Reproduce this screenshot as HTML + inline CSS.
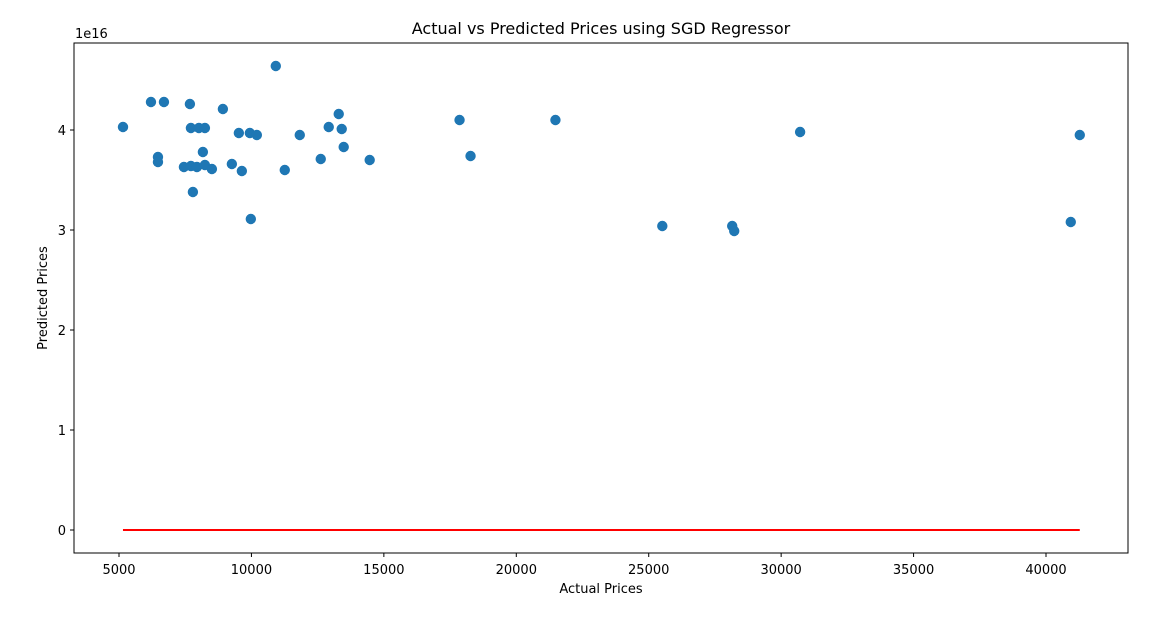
<!DOCTYPE html>
<html><head><meta charset="utf-8"><style>
body{margin:0;background:#fff;}
svg text{font-family:"DejaVu Sans","Liberation Sans",sans-serif;fill:#000;}
</style></head><body>
<svg id="chart" width="1154" height="616" xmlns="http://www.w3.org/2000/svg">
<text x="601" y="34" font-size="16" text-anchor="middle">Actual vs Predicted Prices using SGD Regressor</text>
<text x="601" y="593" font-size="13" text-anchor="middle">Actual Prices</text>
<text transform="translate(47,298) rotate(-90)" font-size="13" text-anchor="middle">Predicted Prices</text>
<text x="75" y="38" font-size="13">1e16</text>
<g id="ticks"></g>
<g id="marks"></g>
<rect x="74" y="43" width="1054" height="510" fill="none" stroke="#000" stroke-width="1"/>
</svg>
<script>
const actual=[5150,6207,6697,6471,6471,7677,7715,8017,8243,7451,7715,7941,7790,8167,8243,8507,8922,9261,9525,9638,9940,10204,9977,10920,11259,11825,12617,12919,13296,13409,13484,14465,17858,18273,21478,25513,28152,28228,30716,40935,41275];
const predicted=[4.03,4.28,4.28,3.73,3.68,4.26,4.02,4.02,4.02,3.63,3.64,3.63,3.38,3.78,3.65,3.61,4.21,3.66,3.97,3.59,3.97,3.95,3.11,4.64,3.60,3.95,3.71,4.03,4.16,4.01,3.83,3.70,4.10,3.74,4.10,3.04,3.04,2.99,3.98,3.08,3.95];
const xTicks=[5000,10000,15000,20000,25000,30000,35000,40000];
const yTicks=[0,1,2,3,4];
const lineY=[0,0];
function X(v){return 119+(v-5000)*(132.43/5000);}
function Y(v){return 530-v*100;}
const NS="http://www.w3.org/2000/svg";
const tg=document.getElementById('ticks'),mg=document.getElementById('marks');
function mk(tag,attrs,parent){const e=document.createElementNS(NS,tag);for(const k in attrs)e.setAttribute(k,attrs[k]);parent.appendChild(e);return e;}
xTicks.forEach(t=>{
  const l=mk('line',{x1:X(t),x2:X(t),y1:553,y2:557,stroke:'#000'},tg);
  
  
  const s=mk('text',{x:X(t),y:574,'font-size':13,'text-anchor':'middle'},tg);s.textContent=t;
  
  
});
yTicks.forEach(t=>{
  const l=mk('line',{x1:70,x2:74,y1:Y(t),y2:Y(t),stroke:'#000'},tg);
  
  
  const s=mk('text',{x:66,y:Y(t)+5,'font-size':13,'text-anchor':'end'},tg);s.textContent=t;
  
  
});
const mn=Math.min(...actual),mx=Math.max(...actual);
const ln=mk('line',{x1:X(mn),x2:X(mx),y1:Y(lineY[0]),y2:Y(lineY[1]),stroke:'#ff0000','stroke-width':2},mg);


actual.forEach((a,i)=>{
  const c=mk('circle',{cx:X(a),cy:Y(predicted[i]),r:5.2,fill:'#1f77b4'},mg);
  
  
});
</script>
</body></html>
